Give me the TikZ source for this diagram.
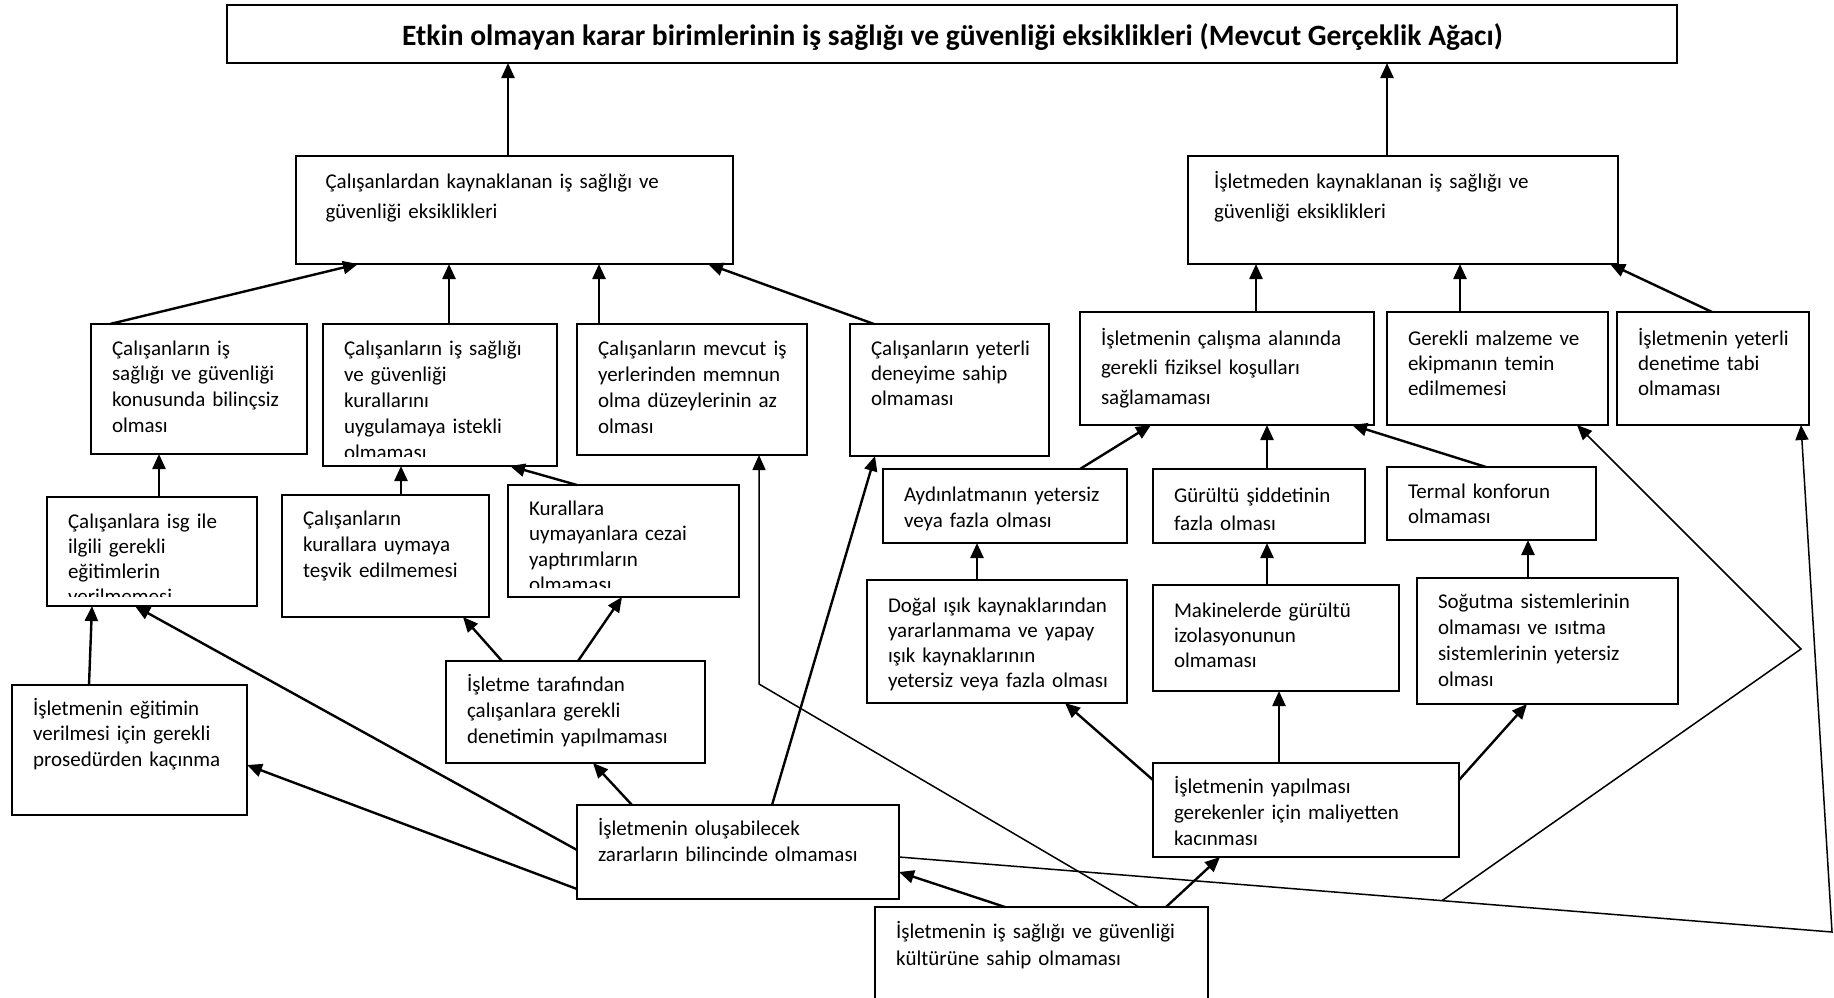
\documentclass[tikz,border=0pt]{standalone}
\usepackage{fontspec}
\setmainfont{Carlito}
\usetikzlibrary{arrows.meta,calc}

\tikzset{
  x=1pt, y=-1pt,
  box/.style={draw, line width=2pt, inner sep=0pt, outer sep=0pt, anchor=north west},
  txt/.style={inner sep=0pt, outer sep=0pt, align=left, text width=420pt, anchor=base west},
  arr/.style={line width=2.4pt, -{Triangle[length=15pt,width=13pt]}},
  thinarr/.style={line width=1.5pt, line join=miter, -{Triangle[length=15pt,width=13pt]}},
}

% #1 name, #2 left, #3 top, #4 right, #5 bottom,
% #6 first baseline below top, #7 baselineskip, #8 text
% (the text is cut off a little above the lower border, as in a text frame)
\newcommand\isgbox[8]{%
  \node[box, minimum width={#4pt-#2pt}, minimum height={#5pt-#3pt},
    path picture={
      \clip ([yshift=10pt]path picture bounding box.south west)
        rectangle (path picture bounding box.north east);
      \node[txt, font=\fontsize{21}{#7}\selectfont] (#1-t)
        at ([xshift=21pt,yshift=-#6pt]path picture bounding box.north west) {#8};
    }] (#1) at (#2,#3) {};%
}

\begin{document}
\begin{tikzpicture}
\useasboundingbox (0,0) rectangle (1834,997);
\fill[white] (0,0) rectangle (1834,997);

% title
\node[box, minimum width=1450pt, minimum height=58pt] (title) at (227,5) {};
\node[inner sep=0pt, anchor=base, font=\fontsize{29.5}{34}\selectfont\bfseries] (title-t) at (952.5,45)
  {Etkin olmayan karar birimlerinin iş sağlığı ve güvenliği eksiklikleri (Mevcut Gerçeklik Ağacı)};

% second level
\isgbox{calkay}{296}{156}{733}{264}{32}{30}{Çalışanlardan kaynaklanan iş sağlığı ve\\güvenliği eksiklikleri}
\isgbox{iskay}{1188}{156}{1618}{264}{32}{30}{İşletmeden kaynaklanan iş sağlığı ve\\güvenliği eksiklikleri}

% employee side
\isgbox{a1}{91}{324}{307}{454}{31}{25.7}{Çalışanların iş\\sağlığı ve güvenliği\\konusunda bilinçsiz\\olması}
\isgbox{a2}{323}{324}{557}{466}{31}{26.2}{Çalışanların iş sağlığı\\ve güvenliği\\kurallarını\\uygulamaya istekli\\olmaması}
\isgbox{a3}{577}{324}{807}{455}{31}{26}{Çalışanların mevcut iş\\yerlerinden memnun\\olma düzeylerinin az\\olması}
\isgbox{a4}{850}{324}{1049}{456}{31}{25}{Çalışanların yeterli\\deneyime sahip\\olmaması}
\isgbox{c1}{47}{497}{257}{606}{31}{25}{Çalışanlara isg ile\\ilgili gerekli\\eğitimlerin\\verilmemesi}
\isgbox{c2}{282}{495}{489}{617}{30}{26}{Çalışanların\\kurallara uymaya\\teşvik edilmemesi}
\isgbox{c3}{508}{485}{739}{597}{30}{25.5}{Kurallara\\uymayanlara cezai\\yaptırımların\\olmaması}
\isgbox{d1}{12}{685}{247}{815}{30}{25.5}{İşletmenin eğitimin\\verilmesi için gerekli\\prosedürden kaçınma}
\isgbox{d2}{446}{661}{705}{763}{30}{26}{İşletme tarafından\\çalışanlara gerekli\\denetimin yapılmaması}
\isgbox{e}{577}{805}{899}{899}{30}{26}{İşletmenin oluşabilecek\\zararların bilincinde olmaması}
\isgbox{f}{875}{907}{1208}{1003}{31}{27}{İşletmenin iş sağlığı ve güvenliği\\kültürüne sahip olmaması}

% company side
\isgbox{b1}{1080}{312}{1374}{425}{33}{29.5}{İşletmenin çalışma alanında\\gerekli fiziksel koşulları\\sağlamaması}
\isgbox{b2}{1387}{312}{1608}{425}{33}{25}{Gerekli malzeme ve\\ekipmanın temin\\edilmemesi}
\isgbox{b3}{1617}{312}{1809}{425}{33}{25}{İşletmenin yeterli\\denetime tabi\\olmaması}
\isgbox{g1}{883}{469}{1127}{543}{32}{26}{Aydınlatmanın yetersiz\\veya fazla olması}
\isgbox{g2}{1153}{469}{1365}{543}{33}{28}{Gürültü şiddetinin\\fazla olması}
\isgbox{g3}{1387}{467}{1596}{540}{31}{25.5}{Termal konforun\\olmaması}
\isgbox{h1}{867}{580}{1127}{703}{32}{25.3}{Doğal ışık kaynaklarından\\yararlanmama ve yapay\\ışık kaynaklarının\\yetersiz veya fazla olması}
\isgbox{h2}{1153}{585}{1399}{691}{32}{25}{Makinelerde gürültü\\izolasyonunun\\olmaması}
\isgbox{h3}{1417}{578}{1678}{704}{30}{26}{Soğutma sistemlerinin\\olmaması ve ısıtma\\sistemlerinin yetersiz\\olması}
\isgbox{i}{1153}{763}{1459}{857}{30}{26}{İşletmenin yapılması\\gerekenler için maliyetten\\kacınması}

% bend points of the long connectors
\coordinate (bendA) at (759,684);
\coordinate (eR) at (e.east |- 0,857);
\coordinate (bendB) at (1832,932);
\coordinate (branch) at ($(eR)!0.582!(bendB)$);
\coordinate (bendC) at (1801,649);

% into the title
\draw[arr] (508,0 |- calkay.north) -- (508,0 |- title.south);
\draw[arr] (1387,0 |- iskay.north) -- (1387,0 |- title.south);

% into the second level
\draw[arr] (110,0 |- a1.north) -- (358,0 |- calkay.south);
\draw[arr] (449,0 |- a2.north) -- (449,0 |- calkay.south);
\draw[arr] (599,0 |- a3.north) -- (599,0 |- calkay.south);
\draw[arr] (874,0 |- a4.north) -- (708,0 |- calkay.south);
\draw[arr] (1256,0 |- b1.north) -- (1256,0 |- iskay.south);
\draw[arr] (1460,0 |- b2.north) -- (1460,0 |- iskay.south);
\draw[arr] (1712,0 |- b3.north) -- (1610,0 |- iskay.south);

% employee side
\draw[arr] (159,0 |- c1.north) -- (159,0 |- a1.south);
\draw[arr] (401,0 |- c2.north) -- (401,0 |- a2.south);
\draw[arr] (577,0 |- c3.north) -- (510,0 |- a2.south);
\draw[arr] (89,0 |- d1.north) -- (92,0 |- c1.south);
\draw[arr] (502,0 |- d2.north) -- (463,0 |- c2.south);
\draw[arr] (578,0 |- d2.north) -- (622,0 |- c3.south);
\draw[arr] (632,0 |- e.north) -- (593,0 |- d2.south);
\draw[arr] (e.west |- 0,889) -- (d1.east |- 0,765);
\draw[arr] (e.west |- 0,850) -- (135,0 |- c1.south);
\draw[arr] (772,0 |- e.north) -- (875,0 |- a4.south);

% from the culture box
\draw[thinarr] (1139,0 |- f.north) -- (bendA) -- (759,0 |- a3.south);
\draw[arr] (1005,0 |- f.north) -- (e.east |- 0,872);
\draw[arr] (1166,0 |- f.north) -- (1220,0 |- i.south);

% long connectors to the right
\draw[thinarr] (eR) -- (bendB) -- (1801,0 |- b3.south);
\draw[thinarr] (branch) -- (bendC) -- (1577,0 |- b2.south);

% company side
\draw[arr] (1279,0 |- i.north) -- (1279,0 |- h2.south);
\draw[arr] (i.west |- 0,780) -- (1065,0 |- h1.south);
\draw[arr] (i.east |- 0,780) -- (1527,0 |- h3.south);
\draw[arr] (977,0 |- h1.north) -- (977,0 |- g1.south);
\draw[arr] (1267,0 |- h2.north) -- (1267,0 |- g2.south);
\draw[arr] (1528,0 |- h3.north) -- (1528,0 |- g3.south);
\draw[arr] (1080,0 |- g1.north) -- (1151,0 |- b1.south);
\draw[arr] (1267,0 |- g2.north) -- (1267,0 |- b1.south);
\draw[arr] (1486,0 |- g3.north) -- (1352,0 |- b1.south);
\end{tikzpicture}
\end{document}
